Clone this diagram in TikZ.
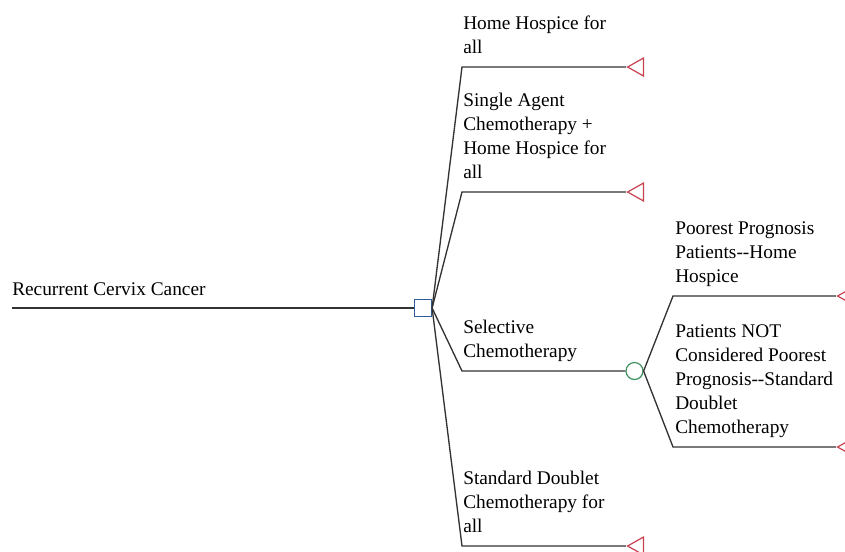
\documentclass[tikz,border=0pt]{standalone}
\usepackage{fontspec}
\setmainfont{Liberation Serif}
\usetikzlibrary{shapes.geometric}
\definecolor{decisionBlue}{HTML}{2E5C9A}
\definecolor{chanceGreen}{HTML}{3F9060}
\definecolor{endRed}{HTML}{C8414F}
\begin{document}
\begin{tikzpicture}[x=0.75pt,y=-0.75pt]
\tikzstyle{branch}=[draw=black!80,line width=1pt]
\tikzstyle{branchText}=[anchor=base west,align=left,inner sep=0pt,font=\fontsize{14.5pt}{18pt}\selectfont]
\tikzstyle{decisionBox}=[rectangle,draw=decisionBlue,line width=0.9pt,minimum size=12.75pt,inner sep=0pt]
\tikzstyle{chanceCircle}=[circle,draw=chanceGreen,line width=0.9pt,minimum size=12.75pt,inner sep=0pt]
\tikzstyle{terminal}=[isosceles triangle,isosceles triangle stretches,shape border rotate=180,draw=endRed,line width=0.9pt,minimum width=13.5pt,minimum height=12pt,inner sep=0pt,anchor=apex]
\useasboundingbox (0,0) rectangle (845,551);

%Root
\coordinate (start) at (12,308);
\node[decisionBox] (decision) at (423,308) {};
\node[branchText] (rootText) at (12,295) {Recurrent Cervix Cancer};

%elbows of the decision branches
\coordinate (hospiceElbow)   at (462,67);
\coordinate (singleElbow)    at (462,192);
\coordinate (selectiveElbow) at (462,371);
\coordinate (doubletElbow)   at (462,546);

%chance node and its elbows
\node[chanceCircle] (chance) at (634.5,371) {};
\coordinate (poorElbow)    at (673,296);
\coordinate (notPoorElbow) at (673,447);

%terminal nodes
\node[terminal] (hospiceEnd) at (626,67) {};
\node[terminal] (singleEnd)  at (626,192) {};
\node[terminal] (doubletEnd) at (626,546) {};
\node[terminal] (poorEnd)    at (836,296) {};
\node[terminal] (notPoorEnd) at (836,447) {};

%branch texts (base = last line)
\node[branchText] (hospiceText)   at (463,53)  {Home Hospice for\\all};
\node[branchText] (singleText)    at (463,178) {Single Agent\\Chemotherapy +\\Home Hospice for\\all};
\node[branchText] (selectiveText) at (463,357) {Selective\\Chemotherapy};
\node[branchText] (doubletText)   at (463,532) {Standard Doublet\\Chemotherapy for\\all};
\node[branchText] (poorText)      at (675,282) {Poorest Prognosis\\Patients-{}-Home\\Hospice};
\node[branchText] (notPoorText)   at (675,433) {Patients NOT\\Considered Poorest\\Prognosis-{}-Standard\\Doublet\\Chemotherapy};

% connections
\draw[branch] (start) -- (decision.west);
\draw[branch] (decision.east) -- (hospiceElbow) -- (hospiceEnd.apex);
\draw[branch] (decision.east) -- (singleElbow) -- (singleEnd.apex);
\draw[branch] (decision.east) -- (selectiveElbow) -- (chance.west);
\draw[branch] (decision.east) -- (doubletElbow) -- (doubletEnd.apex);

\draw[branch] (chance.east) -- (poorElbow) -- (poorEnd.apex);
\draw[branch] (chance.east) -- (notPoorElbow) -- (notPoorEnd.apex);

\end{tikzpicture}
\end{document}
